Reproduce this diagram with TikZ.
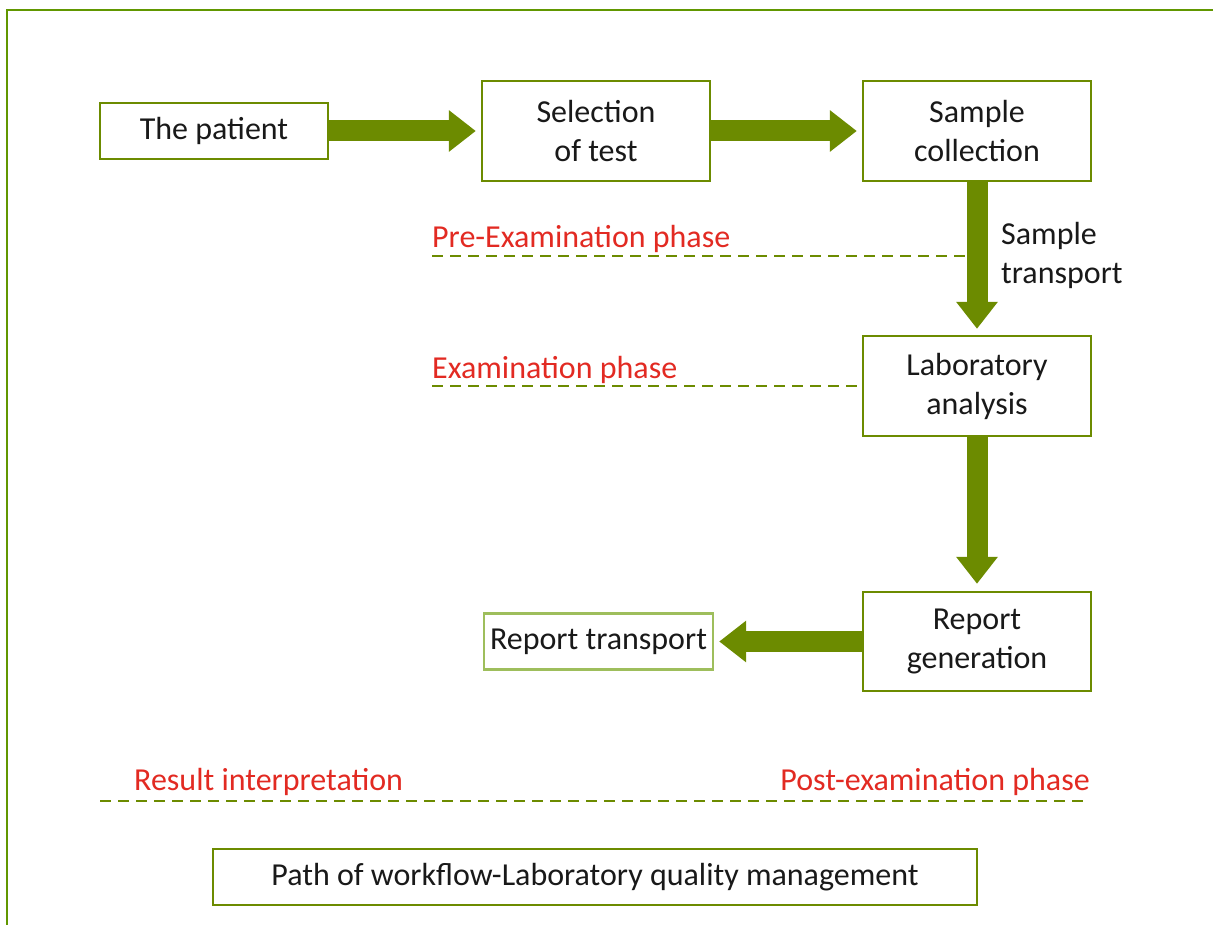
\documentclass[tikz,border=0pt]{standalone}
\usepackage{fontspec}
\setmainfont{Carlito}
\usetikzlibrary{arrows.meta}
\definecolor{olive}{RGB}{108,139,0}
\definecolor{lightolive}{RGB}{158,190,92}
\definecolor{phasered}{RGB}{226,42,34}
\definecolor{ink}{RGB}{25,25,25}
\tikzset{
  stagebox/.style={draw=olive, line width=2.4pt, fill=white, inner sep=0pt,
    minimum width=228pt, minimum height=100pt, align=center, text=ink,
    font=\fontsize{32}{39}\selectfont},
  flatbox/.style={stagebox, minimum height=56pt},
  bigarrow/.style={draw=olive, line width=21pt,
    -{Triangle[length=27pt,width=40pt,fill=olive]}},
  phaseline/.style={draw=olive, line width=2.6pt, dash pattern=on 11pt off 7pt},
  phaselabel/.style={text=phasered, inner sep=0pt,
    font=\fontsize{32}{39}\selectfont},
  plainlabel/.style={text=ink, inner sep=0pt, align=left,
    font=\fontsize{32}{39}\selectfont}
}
\begin{document}
\begin{tikzpicture}[x=1pt,y=-1pt]
  \useasboundingbox (0,0) rectangle (1213,925);
  % outer frame (left and top edges)
  \draw[olive!90!green, line width=2pt] (7,925) -- (7,10) -- (1213,10);

  % workflow stages
  \node[flatbox] (patient) at (214,131) {The patient};
  \node[stagebox] (sel) at (596,131) {Selection\\of test};
  \node[stagebox] (coll) at (977,131) {Sample\\collection};
  \node[stagebox] (lab) at (977,386) {Laboratory\\analysis};
  \node[stagebox, minimum height=99pt] (rgen) at (977,641.5) {Report\\generation};
  \node[flatbox, draw=lightolive, minimum width=229pt] (rtrans) at (598.5,641.5) {Report transport};
  \node[flatbox, minimum width=764pt] (qm) at (595,877) {Path of workflow-Laboratory quality management};

  % phase separators
  \coordinate (preL) at (432,256);
  \coordinate (exL) at (432,386);
  \coordinate (postL) at (100,801);
  \coordinate (postR) at (1090,801);
  \draw[phaseline] (preL) -- ([xshift=-11pt]preL -| coll.south);
  \draw[phaseline] (exL) -- (exL -| lab.west);
  \draw[phaseline] (postL) -- (postR);

  % flow arrows
  \draw[bigarrow, shorten >=5pt] (patient.east) -- (sel.west);
  \draw[bigarrow, shorten >=5pt] (sel.east) -- (coll.west);
  \draw[bigarrow, shorten >=6pt] (coll.south) -- (lab.north);
  \draw[bigarrow, shorten >=7pt] (lab.south) -- (rgen.north);
  \draw[bigarrow, shorten >=5pt] (rgen.west) -- (rtrans.east);

  % labels
  \node[plainlabel, anchor=west] (transport) at (1001,255) {Sample\\transport};
  \node[phaselabel, anchor=base west] (prelabel) at (432,248) {Pre-Examination phase};
  \node[phaselabel, anchor=base west] (exlabel) at (432,378) {Examination phase};
  \node[phaselabel, anchor=base west] (reslabel) at (134,790) {Result interpretation};
  \node[phaselabel, anchor=base east] (postlabel) at (1090,790) {Post-examination phase};
\end{tikzpicture}
\end{document}
